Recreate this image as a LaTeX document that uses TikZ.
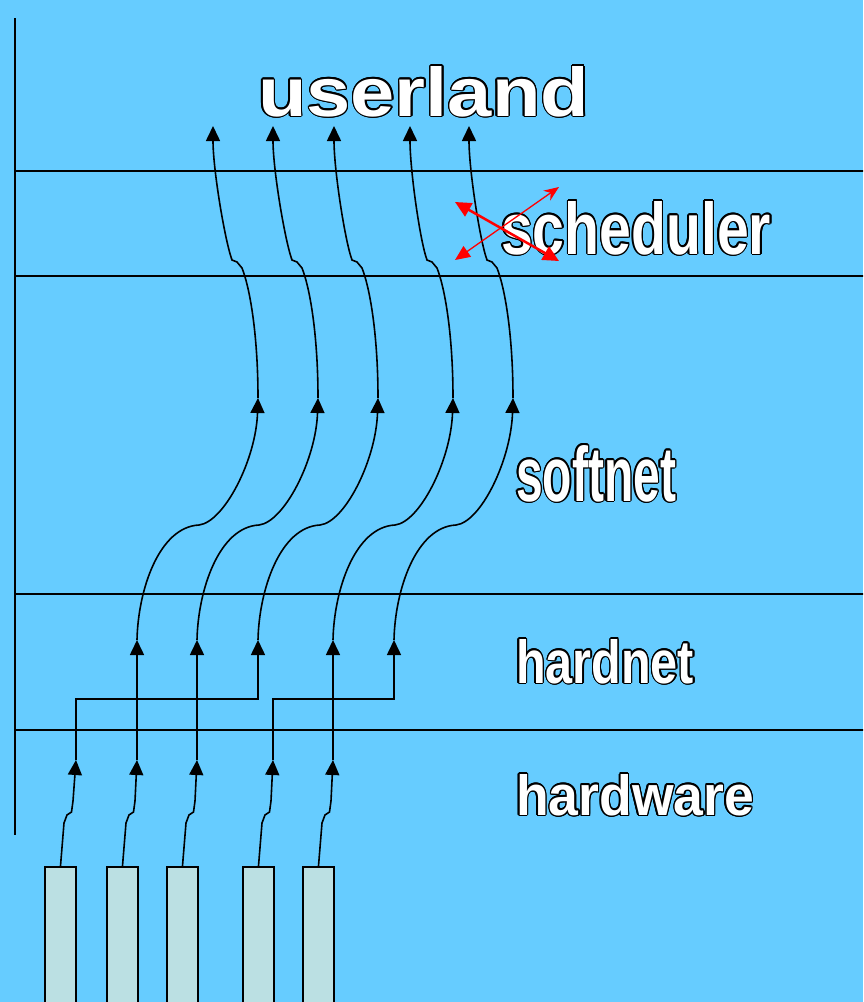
\documentclass[tikz,border=0pt]{standalone}
\usepackage{fontspec}
\newfontfamily\labfont{Liberation Sans}
\usetikzlibrary{arrows.meta,calc}
\definecolor{bg}{RGB}{102,204,255}
\definecolor{boxfill}{RGB}{187,224,227}
\tikzset{
  wire/.style={line width=1.6pt, black},
  arr/.style={wire, -{Triangle[length=15pt,width=14pt]}},
  layer/.style={line width=1.5pt, black},
  nic/.style={draw=black, line width=1.6pt, fill=boxfill, minimum width=31pt,
    minimum height=160pt, anchor=north, inner sep=0pt},
  lab/.style={anchor=base west, inner sep=0pt, outer sep=0pt},
  redthick/.style={red, line width=2.5pt,
    {Triangle[length=16pt,width=15pt]}-{Triangle[length=16pt,width=15pt]}},
  redthin/.style={red, line width=1.3pt,
    {Triangle[length=15pt,width=13pt]}-{Stealth[length=15pt,width=12pt]}}
}
\newcommand\outlinedlabel[5]{%
  \foreach \ang in {0,22.5,...,337.5}
    \node[lab, text=black] at ($(#2)+(\ang:1.4pt)$) {\resizebox{#3}{#4}{\labfont\bfseries #5}};
  \node[lab, text=white] (#1) at (#2) {\resizebox{#3}{#4}{\labfont\bfseries #5}};
}
\begin{document}
\begin{tikzpicture}[x=1pt,y=-1pt]
\useasboundingbox (0,0) rectangle (863,1002);
\clip (0,0) rectangle (863,1002);
\fill[bg] (0,0) rectangle (863,1002);

% layer lines
\coordinate (vtop) at (15,18);
\coordinate (vbot) at (15,835);
\draw[layer] (vtop) -- (vbot);
\foreach \yy/\nm in {171/l1,276/l2,594/l3,730/l4}{
  \coordinate (\nm a) at (15,\yy);
  \coordinate (\nm b) at (870,\yy);
  \draw[layer] (\nm a) -- (\nm b);
}

% arrow points
\foreach \i/\x in {1/76,2/137,3/197,4/273,5/333} \coordinate (hw\i) at (\x,760);
\foreach \i/\x in {1/137,2/197,3/258,4/333,5/394} \coordinate (hn\i) at (\x,640);
\foreach \i/\x in {1/258,2/318,3/378,4/453,5/513} \coordinate (sn\i) at (\x,398);
\foreach \i/\x in {1/213,2/273,3/334,4/410,5/469} \coordinate (ul\i) at (\x,126);

% network cards
\foreach \i/\x in {1/60.5,2/122.5,3/182.5,4/258.5,5/318.5}
  \node[nic] (b\i) at (\x,866) {};

% hardware wires
\foreach \i in {1,...,5}
  \draw[arr] (b\i.north) -- ++(3.5,-43) -- ++(3,-8) -- ++(4.5,-3) -- ++(1.5,-11) -- (hw\i);

% hardware -> hardnet
\draw[arr] (hw1) -- ++(0,-61) -| (hn3);
\draw[arr] (hw2) -- (hn1);
\draw[arr] (hw3) -- (hn2);
\draw[arr] (hw4) -- ++(0,-61) -| (hn5);
\draw[arr] (hw5) -- (hn4);

% hardnet -> softnet
\foreach \i in {1,...,5}
  \draw[arr] (hn\i) .. controls +(1,-50) and +(-40,2) .. ++(62,-115)
    .. controls +(25,-3) and +(-2,62) .. (sn\i);

% softnet -> userland
\foreach \i in {1,...,5}
  \draw[arr] (sn\i) .. controls +(0,-58) and +(9,23) .. ++(-16,-130)
    -- ++(-5,-6) -- ++(-5,-2) .. controls +(-7,-19) and +(0,44) .. (ul\i);

% labels
\coordinate (ulpos) at (258,116);
\coordinate (scpos) at (501,254);
\coordinate (sfpos) at (516,501);
\coordinate (hnpos) at (516,683);
\coordinate (hwpos) at (516,815);
\outlinedlabel{userland}{ulpos}{331pt}{50pt}{userland}
\outlinedlabel{scheduler}{scpos}{270pt}{53pt}{scheduler}
\outlinedlabel{softnet}{sfpos}{160pt}{56pt}{softnet}
\outlinedlabel{hardnet}{hnpos}{178pt}{44pt}{hardnet}
\outlinedlabel{hardware}{hwpos}{238pt}{41pt}{hardware}

% scheduler swap arrows
\coordinate (ra1) at (455,202);
\coordinate (ra2) at (559,261);
\coordinate (rb1) at (455,260);
\coordinate (rb2) at (559,187);
\draw[redthick] (ra1) -- (ra2);
\draw[redthin] (rb1) -- (rb2);
\end{tikzpicture}
\end{document}
